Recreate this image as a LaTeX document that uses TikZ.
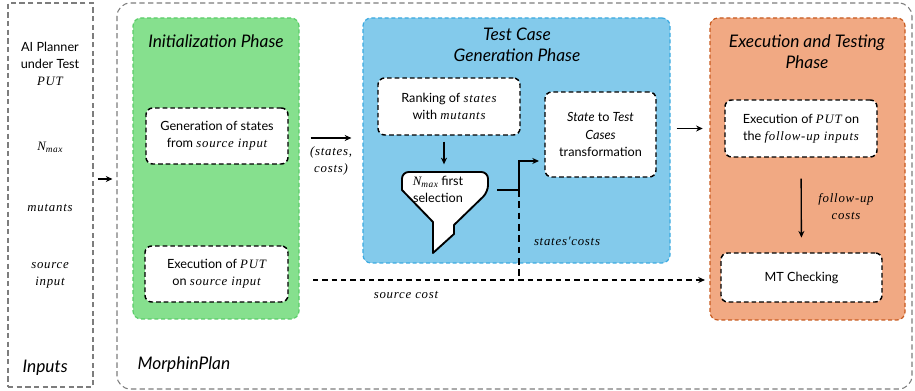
\documentclass[tikz,border=0pt]{standalone}
\usepackage{fontspec}
\setmainfont{Lato}
\newfontfamily\mvfont{Liberation Serif}[LetterSpace=6]
\newcommand{\mv}[1]{{\mvfont\itshape\fontsize{9.6}{12.5}\selectfont #1}}
\newcommand{\nmx}{\mv{N\raisebox{-0.35ex}{\fontsize{7}{7}\selectfont max}}}
\usetikzlibrary{arrows.meta}
\definecolor{gfill}{RGB}{134,224,142}
\definecolor{gline}{RGB}{90,205,105}
\definecolor{bfill}{RGB}{131,202,235}
\definecolor{bline}{RGB}{60,170,225}
\definecolor{ofill}{RGB}{241,169,131}
\definecolor{oline}{RGB}{200,90,30}
\definecolor{outl}{RGB}{125,125,125}
\newlength{\pxu}
\setlength{\pxu}{0.75pt}
\begin{document}
\begin{tikzpicture}[x=0.75pt,y=-0.75pt,
  outerbox/.style={draw=outl, line width=0.8pt, dash pattern=on 4pt off 2.5pt, inner sep=0pt},
  phase/.style={rounded corners=6pt, line width=0.9pt, dash pattern=on 3pt off 2pt, inner sep=0pt},
  inbox/.style={draw=black, fill=white, rounded corners=5pt, line width=1.1pt, dash pattern=on 3.5pt off 2.2pt, align=center, inner sep=2pt, font=\fontsize{9.5}{12.8}\selectfont},
  txt/.style={align=center, font=\fontsize{9.5}{12.8}\selectfont, inner sep=1pt},
  ttl/.style={align=center, font=\fontsize{13}{15.5}\selectfont\itshape, inner sep=1pt},
  arr/.style={-{Stealth[length=5pt,width=4.5pt]}, line width=1pt},
  darr/.style={-{Stealth[length=5pt,width=4.5pt]}, line width=1pt, dash pattern=on 4pt off 3pt},
]
\useasboundingbox (0,0) rectangle (915,391);

% outer boxes
\node[outerbox, minimum width=85\pxu, minimum height=384\pxu] (inputs) at (50.5,195) {};
\node[outerbox, rounded corners=10pt, minimum width=795\pxu, minimum height=386\pxu] (morph) at (514.5,196) {};

% phases
\node[phase, draw=gline, fill=gfill, minimum width=166\pxu, minimum height=301\pxu] (green) at (216,168.5) {};
\node[phase, draw=bline, fill=bfill, minimum width=307\pxu, minimum height=245\pxu] (blue) at (516.5,140.5) {};
\node[phase, draw=oline, fill=ofill, minimum width=195\pxu, minimum height=302\pxu] (orange) at (807.5,169) {};

% inputs text
\node[txt] (ai) at (50,64) {AI Planner\\under Test\\\mv{PUT}};
\node[txt] (nmax) at (50,147) {\nmx};
\node[txt] (mut) at (50,208) {\mv{mutants}};
\node[txt] (src) at (50,275) {\mv{source}\\\mv{input}};
\node[ttl, anchor=west] (inl) at (21,368) {Inputs};
\node[ttl, anchor=west] (mpl) at (136,365) {MorphinPlan};

% titles
\node[ttl] (gt) at (216,41) {Initialization Phase};
\node[ttl] (bt) at (517,45) {Test Case\\Generation Phase};
\node[ttl] (ot) at (807,52) {Execution and Testing\\Phase};

% inner boxes
\node[inbox, minimum width=142\pxu, minimum height=56\pxu] (gen) at (217,136) {Generation of states\\from \mv{source input}};
\node[inbox, minimum width=143\pxu, minimum height=56\pxu] (exs) at (216.5,274) {Execution of \mv{PUT}\\on \mv{source input}};
\node[inbox, minimum width=142\pxu, minimum height=57\pxu] (rank) at (449,106.5) {Ranking of \mv{states}\\with \mv{mutants}};
\node[inbox, minimum width=111\pxu, minimum height=85\pxu] (stt) at (600.5,134.5) {\textit{State} to \textit{Test}\\\textit{Cases}\\transformation};
\node[inbox, minimum width=152\pxu, minimum height=57\pxu] (efu) at (801,128.5) {Execution of \mv{PUT} on\\the \mv{follow-up inputs}};
\node[inbox, minimum width=161\pxu, minimum height=49\pxu] (mt) at (801.5,277.5) {MT Checking};

% funnel
\draw[line width=1.4pt, fill=white, line join=round]
  (433,222) -- (402,190) [rounded corners=5pt] -- (402,172) -- (488,172) -- (488,192) [sharp corners] -- (454,225) -- (454,234) -- (433,253) -- cycle;
\node[txt] (fun) at (438,189) {\nmx{} first\\selection};
\coordinate (funtop) at (444,171);
\coordinate (fo) at (497,190);
\coordinate (jn) at (519,190);
\coordinate (jd) at (519,276);
\coordinate (stin) at (539,161);
\coordinate (sc) at (313,280);

% connectors
\draw[arr, shorten <=3pt, shorten >=3pt] ([yshift=12pt]inputs.east) -- ([yshift=12pt]inputs.east -| morph.west);
\draw[arr, shorten <=8.25pt, shorten >=8.25pt] (green.east |- 0,138) -- (blue.west |- 0,138)
  node[midway, below=5pt, txt] (sclab) {\mv{(states,}\\\mv{costs)}};
\draw[arr, shorten <=4.5pt, shorten >=5pt] (blue.east |- efu.west) -- (orange.west |- efu.west);
\draw[arr, shorten <=4.5pt, shorten >=5pt] (rank.south -| funtop) -- (funtop);
\draw[line width=1.1pt] (fo) -- (jn);
\draw[arr] (jn) |- (stin);
\draw[line width=1.1pt, dash pattern=on 5pt off 3.5pt] (jn) -- (jd);
\node[txt] (stc) at (567,241) {\mv{states′costs}};
\draw[darr, shorten >=11.5pt] (sc) -- (sc -| mt.west);
\node[txt] (scl) at (406,295) {\mv{source cost}};
\draw[arr, shorten <=15.75pt, shorten >=11pt] (efu.south) -- (mt.north);
\node[txt] (fuc) at (846,207) {\mv{follow-up}\\\mv{costs}};
\end{tikzpicture}
\end{document}
